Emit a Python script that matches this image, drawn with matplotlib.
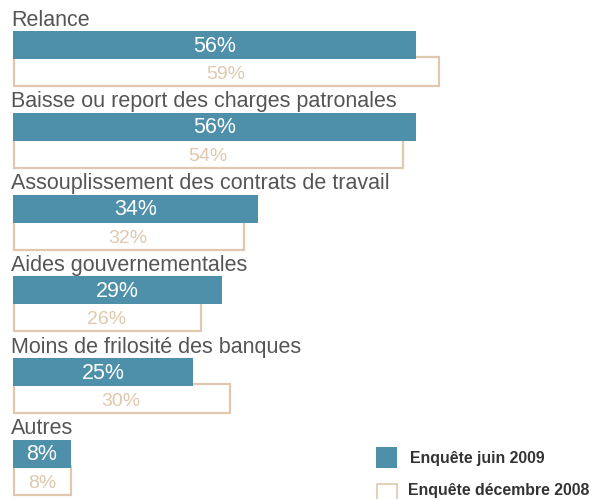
import matplotlib.pyplot as plt
from matplotlib.patches import Rectangle

categories = ["Relance", "Baisse ou report des charges patronales",
              "Assouplissement des contrats de travail", "Aides gouvernementales",
              "Moins de frilosité des banques", "Autres"]
juin_2009 = [56, 56, 34, 29, 25, 8]
dec_2008 = [59, 54, 32, 26, 30, 8]
series_names = ["Enquête juin 2009", "Enquête décembre 2008"]

blue = "#4e8faa"
tan = "#dfc8ad"

plt.rcParams["font.family"] = ["Liberation Sans", "DejaVu Sans"]

fig = plt.figure(figsize=(5.91, 4.99), dpi=100)
ax = fig.add_axes([0, 0, 1, 1])
# x en %, y en pixels (haut -> bas)
px = 7.2
ax.set_xlim(-13 / px, (591 - 13) / px)
ax.set_ylim(499, 0)
ax.axis("off")

pitch = 81.8
h = 28
for i, cat in enumerate(categories):
    top = 31 + i * pitch
    ax.text(-0.3, top - 0.5, cat, fontsize=15.5, color="#555555", va="bottom", ha="left")
    # barre décembre 2008 (contour), le haut est caché sous la barre bleue
    ax.barh(top + h - 2 + (h + 1) / 2, dec_2008[i], height=h + 1, left=0.1,
            color="white", edgecolor=tan, linewidth=1.6, zorder=1)
    ax.barh(top + h / 2, juin_2009[i], height=h, left=0, color=blue,
            edgecolor="none", zorder=2)
    ax.text(juin_2009[i] / 2, top + h / 2 + 1, f"{juin_2009[i]}%", color="white",
            fontsize=15.5, ha="center", va="center", zorder=3)
    ax.text(dec_2008[i] / 2, top + h * 1.5 + 1.5, f"{dec_2008[i]}%", color=tan,
            fontsize=14, ha="center", va="center", zorder=3)

# légende
fig.patches.append(Rectangle((376 / 591, 1 - 468 / 499), 21 / 591, 21 / 499,
                             transform=fig.transFigure, facecolor=blue, edgecolor="none"))
fig.patches.append(Rectangle((377 / 591, 1 - 504 / 499), 20 / 591, 20 / 499,
                             transform=fig.transFigure, facecolor="white", edgecolor=tan,
                             linewidth=1.2))
fig.text(410 / 591, 1 - 458 / 499, series_names[0], fontsize=11.4, fontweight="bold",
         color="#333333", va="center")
fig.text(408 / 591, 1 - 491 / 499, series_names[1], fontsize=11.4, fontweight="bold",
         color="#333333", va="center")

fig.savefig("out.png", dpi=100)
